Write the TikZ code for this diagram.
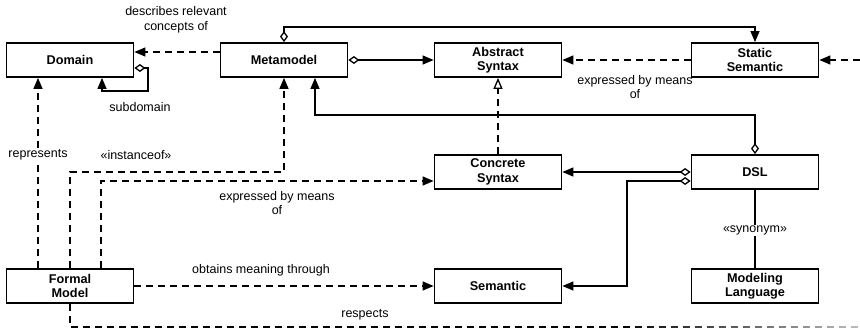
\documentclass[tikz,border=0pt]{standalone}
\usepackage{fontspec}
\setmainfont{Liberation Sans}
\usetikzlibrary{arrows.meta,fadings,calc}
\tikzfading[name=rightfade, left color=transparent!100, right color=transparent!25]
\begin{document}
\begin{tikzpicture}[x=1pt,y=-1pt,
  box/.style={draw, line width=1.8pt, minimum width=127pt, minimum height=34pt, inner sep=1pt,
    align=center, font=\fontsize{12.7}{14.5}\selectfont\bfseries},
  lbl/.style={align=center, inner sep=1pt, font=\fontsize{12.5}{14.5}\selectfont},
  conn/.style={line width=1.3pt},
  dsh/.style={conn, dash pattern=on 7pt off 5pt},
  arr/.style={-{Triangle[length=11pt,width=9pt]}},
  oarr/.style={-{Triangle[open,length=11pt,width=9pt,fill=white]}},
  agg/.style={{Diamond[length=11pt,width=8pt,fill=white]}-{Triangle[length=11pt,width=9pt]}}
]
\useasboundingbox (0,0) rectangle (860,330);

% boxes
\node[box] (Domain) at (70,60) {Domain};
\node[box] (Meta) at (284,60) {Metamodel};
\node[box] (AS) at (498,60) {Abstract\\Syntax};
\node[box] (SS) at (755,60) {Static\\Semantic};
\node[box] (CS) at (498,172) {Concrete\\Syntax};
\node[box] (DSL) at (755,172) {DSL};
\node[box] (Sem) at (498,286) {Semantic};
\node[box] (ML) at (755,286) {Modeling\\Language};
\node[box] (FM) at (70,286) {Formal\\Model};

% helper coordinates
\coordinate (dl1) at (148,91);
\coordinate (dsv) at (627,240);
\coordinate (ssin) at (860,60);
\coordinate (rend) at (860,327);

% Metamodel -> Domain
\draw[dsh,arr] ([yshift=8pt]Meta.west) -- ([yshift=8pt]Domain.east);
\node[lbl] (l1) at (176,20) {describes relevant\\concepts of};

% Domain self loop
\draw[conn,agg] ([yshift=-8pt]Domain.east) -| (dl1) -| ([xshift=32pt]Domain.south);
\node[lbl] (l2) at (140,107) {subdomain};

% Metamodel -> Abstract Syntax
\draw[conn,agg] (Meta.east) -- (AS.west);

% Metamodel top -> Static Semantic
\draw[conn,agg] (Meta.north) -- ++(0,-15) -| (SS.north);

% Static Semantic -> Abstract Syntax
\draw[dsh,arr] (SS.west) -- (AS.east);
\node[lbl] (l3) at (635,87) {expressed by means\\of};

% dangling into Static Semantic
\draw[dsh,arr] (ssin) -- (SS.east);

% DSL -> Metamodel
\draw[conn,agg] (DSL.north) -- ++(0,-39) -| ([xshift=31pt]Meta.south);

% Concrete Syntax -> Abstract Syntax
\draw[dsh,oarr] (CS.north) -- (AS.south);

% DSL -> Concrete Syntax
\draw[conn,agg] (DSL.west) -- (CS.east);

% DSL -> Semantic
\draw[conn,agg] ([yshift=-9pt]DSL.west) -| (dsv) |- (Sem.east);

% DSL -- Modeling Language
\draw[conn] (DSL.south) -- node[lbl, fill=white, pos=0.52] (l4) {«synonym»} (ML.north);

% Formal Model -> Domain
\draw[dsh,arr] ([xshift=-32pt]FM.north) -- node[lbl, fill=white, pos=0.594] (l5) {represents} ([xshift=-32pt]Domain.south);

% Formal Model -> Metamodel
\draw[dsh,arr] (FM.north) -- ++(0,-96) -| (Meta.south);
\node[lbl] (l6) at (136,155) {«instanceof»};

% Formal Model -> Concrete Syntax
\draw[dsh,arr] ([xshift=31pt]FM.north) |- ([yshift=-9pt]CS.west);
\node[lbl] (l7) at (277,203) {expressed by means\\of};

% Formal Model -> Semantic
\draw[dsh,arr] (FM.east) -- (Sem.west);
\node[lbl] (l8) at (261,270) {obtains meaning through};

% Formal Model respects
\draw[dsh] (FM.south) |- (rend);
\node[lbl] (l9) at (365,315) {respects};
\fill[white, path fading=rightfade] (620,320) rectangle (861,331);
\end{tikzpicture}
\end{document}
